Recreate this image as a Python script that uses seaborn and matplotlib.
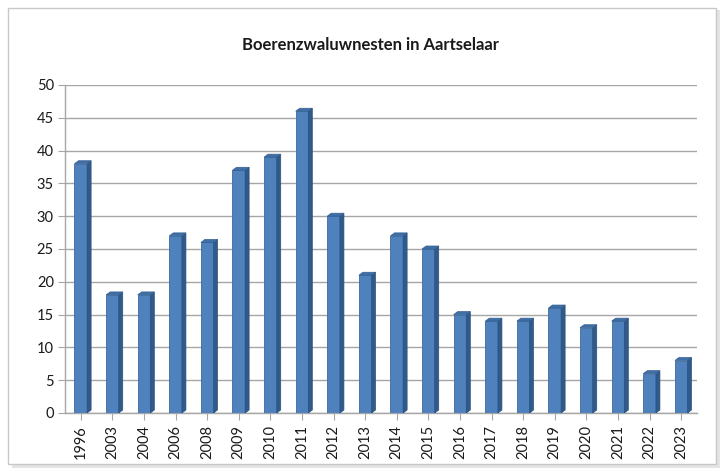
import matplotlib
matplotlib.use('Agg')
import matplotlib.pyplot as plt
from matplotlib.patches import Rectangle, Polygon
import matplotlib.transforms as mtransforms
import seaborn as sns
import pandas as pd

years = ['1996', '2003', '2004', '2006', '2008', '2009', '2010', '2011', '2012', '2013',
         '2014', '2015', '2016', '2017', '2018', '2019', '2020', '2021', '2022', '2023']
nests = [38, 18, 18, 27, 26, 37, 39, 46, 30, 21, 27, 25, 15, 14, 14, 16, 13, 14, 6, 8]

data = pd.DataFrame({'jaar': years, 'nesten': nests})

sns.set_style('white')
plt.rcParams['font.family'] = ['Lato', 'DejaVu Sans']

fig = plt.figure(figsize=(7.25, 4.74), dpi=100)
ax = fig.add_axes([65 / 725, 1 - 413 / 474, (697 - 65) / 725, (413 - 85) / 474])

# chart frame with soft shadow
fig.patches.append(Rectangle((12 / 725, 1 - 468 / 474), 708 / 725, 458 / 474,
                             transform=fig.transFigure, facecolor='#e4e4e4',
                             edgecolor='none', zorder=-3))
fig.patches.append(Rectangle((8 / 725, 1 - 464 / 474), 708 / 725, 456 / 474,
                             transform=fig.transFigure, facecolor='white',
                             edgecolor='#c8c8c8', linewidth=1.0, zorder=-2))
ax.patch.set_alpha(0)

sns.barplot(data=data, x='jaar', y='nesten', color='#4F81BD', saturation=1,
            width=0.4, edgecolor='#3d6a9e', linewidth=0.6, ax=ax, zorder=3)

ax.set_ylim(0, 50)
ax.set_xlim(-0.5, len(years) - 0.5)

# darker side face + top for a 3D look (pixel offset)
px, py = 4, 3
ident = mtransforms.IdentityTransform()
t = ax.transData
for p in list(ax.patches[:len(years)]):
    x0, y0, w, h = p.get_x(), p.get_y(), p.get_width(), p.get_height()
    bl = t.transform((x0, y0))
    br = t.transform((x0 + w, y0))
    tr = t.transform((x0 + w, y0 + h))
    tl = t.transform((x0, y0 + h))
    side = [br, tr, (tr[0] + px, tr[1] + py), (br[0] + px, br[1] + py)]
    top = [tl, tr, (tr[0] + px, tr[1] + py), (tl[0] + px, tl[1] + py)]
    ax.add_patch(Polygon(side, closed=True, transform=ident, facecolor='#2f5a8a',
                         edgecolor='#2a5280', linewidth=0.5, zorder=3))
    ax.add_patch(Polygon(top, closed=True, transform=ident, facecolor='#3e6fa6',
                         edgecolor='#355f91', linewidth=0.5, zorder=3))

ax.set_yticks(range(0, 51, 5))
ax.yaxis.grid(True, color='#a6a6a6', linewidth=1.0, zorder=0)
ax.set_axisbelow(True)
for s in ['top', 'right']:
    ax.spines[s].set_visible(False)
for s in ['left', 'bottom']:
    ax.spines[s].set_color('#a6a6a6')
    ax.spines[s].set_linewidth(1.0)
ax.tick_params(axis='y', length=5, color='#a6a6a6', labelsize=10.5, pad=3,
               left=True, labelcolor='#1a1a1a')
ax.tick_params(axis='x', length=5, color='#a6a6a6', labelsize=10.5, rotation=90,
               bottom=True, labelcolor='#1a1a1a')
ax.set_xlabel('')
ax.set_ylabel('')

fig.text(370 / 725, 1 - 45 / 474, 'Boerenzwaluwnesten in Aartselaar', ha='center',
         va='center', fontsize=12, fontweight='bold', color='#1a1a1a')

fig.savefig('out.png', dpi=100)
